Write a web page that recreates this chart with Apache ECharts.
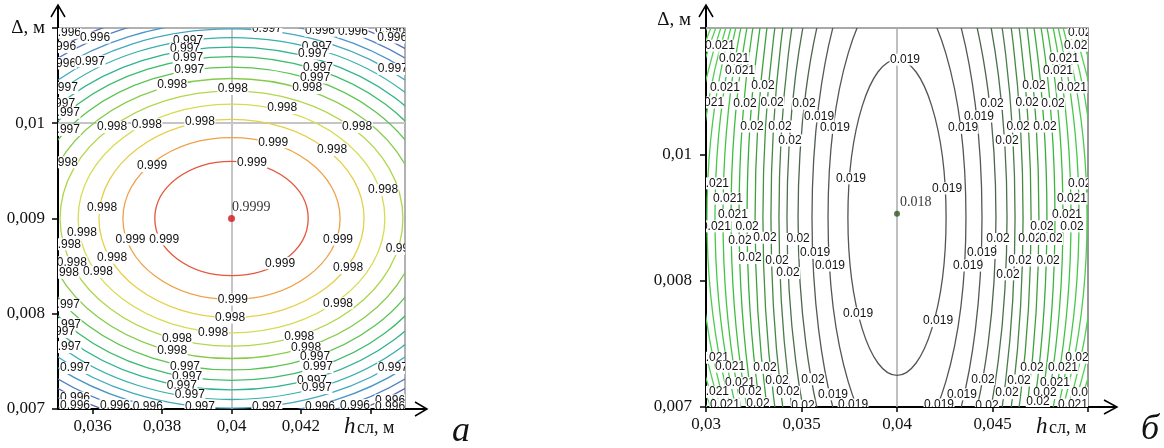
<!DOCTYPE html>
<html><head><meta charset="utf-8">
<script src="https://cdn.jsdelivr.net/npm/echarts@6/dist/echarts.min.js"></script>
<style>html,body{margin:0;padding:0;background:#fff}#c{width:1164px;height:448px}</style>
</head><body><div id="c"></div>
<script>
// ================= DATA: panel (а) =================
const leftCenter = [0.04, 0.009];
const leftCenterText = '0.9999';
// semi-axes of each contour ellipse, inner -> outer
const leftRx = [0.00221, 0.00313, 0.00382, 0.00442, 0.00494, 0.00542, 0.00585, 0.00626, 0.00663, 0.00697, 0.00732, 0.00766, 0.00798, 0.00826, 0.00855, 0.00884];
const leftRy = [0.0006, 0.00085, 0.00104, 0.0012, 0.00134, 0.00147, 0.00159, 0.0017, 0.0018, 0.0019, 0.00199, 0.00207, 0.00216, 0.00224, 0.00232, 0.0024];
const leftXTicks = [0.036, 0.038, 0.04, 0.042, 0.044];
const leftXTickLabels = ['0,036', '0,038', '0,04', '0,042', ''];
const leftYTicks = [0.007, 0.008, 0.009, 0.01, 0.011];
const leftYTickLabels = ['0,007', '0,008', '0,009', '0,01', ''];
const leftGridX = [0.036, 0.038, 0.04, 0.042, 0.044];
const leftGridY = [0.008, 0.009, 0.01];
const leftLabels = [
[0.03523,0.01095,'0.996'],[0.03607,0.0109,'0.996'],[0.03509,0.0108,'0.996'],[0.03509,0.01063,'0.996'],
[0.03592,0.01065,'0.997'],[0.03875,0.01087,'0.997'],[0.03866,0.01078,'0.997'],[0.03875,0.01069,'0.997'],
[0.03878,0.01056,'0.997'],[0.03829,0.0104,'0.998'],[0.04004,0.01036,'0.998'],[0.04146,0.01016,'0.998'],
[0.03909,0.01002,'0.998'],[0.03756,0.00999,'0.998'],[0.03656,0.00996,'0.998'],[0.04102,0.01099,'0.997'],
[0.04255,0.01097,'0.996'],[0.0435,0.01096,'0.996'],[0.04457,0.01098,'0.996'],[0.04463,0.0109,'0.996'],
[0.04246,0.0108,'0.997'],[0.04235,0.01073,'0.997'],[0.04249,0.01058,'0.997'],[0.04241,0.01048,'0.997'],
[0.04218,0.01037,'0.998'],[0.04465,0.01057,'0.997'],[0.03514,0.01037,'0.997'],[0.03506,0.01021,'0.997'],
[0.0352,0.01011,'0.997'],[0.0352,0.00993,'0.997'],[0.04362,0.00996,'0.998'],[0.0412,0.0098,'0.999'],
[0.0429,0.00972,'0.998'],[0.03771,0.00955,'0.999'],[0.04059,0.00959,'0.999'],[0.04437,0.0093,'0.998'],
[0.03514,0.00959,'0.998'],[0.03627,0.00911,'0.998'],[0.03569,0.00885,'0.998'],[0.03523,0.00873,'0.998'],
[0.03656,0.00859,'0.998'],[0.0354,0.00854,'0.998'],[0.03517,0.00843,'0.998'],[0.03615,0.00844,'0.998'],
[0.03709,0.00878,'0.999'],[0.03806,0.00878,'0.999'],[0.04307,0.00878,'0.999'],[0.04488,0.00868,'0.998'],
[0.0414,0.00853,'0.999'],[0.04336,0.00848,'0.998'],[0.04004,0.00815,'0.999'],[0.04307,0.00811,'0.998'],
[0.03996,0.00796,'0.998'],[0.03947,0.0078,'0.998'],[0.03843,0.00774,'0.998'],[0.03829,0.00761,'0.998'],
[0.04195,0.00776,'0.998'],[0.04215,0.00764,'0.998'],[0.04241,0.00755,'0.997'],[0.04249,0.00744,'0.997'],
[0.04232,0.0073,'0.997'],[0.04246,0.00722,'0.997'],[0.03866,0.00744,'0.997'],[0.03872,0.00734,'0.997'],
[0.03857,0.00725,'0.997'],[0.0388,0.00715,'0.997'],[0.03909,0.00702,'0.997'],[0.04102,0.00702,'0.997'],
[0.0352,0.00809,'0.997'],[0.03523,0.00789,'0.997'],[0.03506,0.00781,'0.997'],[0.03523,0.00765,'0.997'],
[0.03549,0.00743,'0.997'],[0.03549,0.00712,'0.996'],[0.03549,0.00704,'0.996'],[0.03664,0.00704,'0.996'],
[0.03759,0.00702,'0.996'],[0.04255,0.00702,'0.996'],[0.04356,0.00704,'0.996'],[0.04457,0.00709,'0.996'],
[0.04457,0.00702,'0.996'],[0.04465,0.00743,'0.997']
];

// ================= DATA: panel (б) =================
const rightCenter = [0.04, 0.00853];
const rightCenterText = '0.018';
const rightEllipseCenter = [0.04, 0.0085];
const rightRx = [0.00257, 0.00361, 0.00445, 0.00518, 0.00576, 0.00618, 0.0066, 0.00702, 0.00743, 0.00785, 0.00827, 0.00869, 0.00911, 0.00953, 0.00995, 0.01037, 0.01079, 0.0112, 0.01162, 0.01204];
const rightRy = [0.00125, 0.00184, 0.00229, 0.00256, 0.0029, 0.0033, 0.00354, 0.00363, 0.00374, 0.00369, 0.00366, 0.00351, 0.0034, 0.00323, 0.00309, 0.00298, 0.00289, 0.00282, 0.00275, 0.00267];
const rightXTicks = [0.03, 0.035, 0.04, 0.045, 0.05];
const rightXTickLabels = ['0,03', '0,035', '0,04', '0,045', ''];
const rightYTicks = [0.007, 0.008, 0.009, 0.01];
const rightYTickLabels = ['0,007', '0,008', '0,01', ''];
const rightGridX = [0.04];
const rightGridY = [0.008, 0.009];
const rightLabels = [
[0.03073,0.00986,'0.021'],[0.03147,0.00976,'0.021'],[0.03178,0.00966,'0.021'],[0.03099,0.00953,'0.021'],
[0.03016,0.00941,'0.021'],[0.03298,0.00954,'0.02'],[0.03204,0.0094,'0.02'],[0.03346,0.00941,'0.02'],
[0.03513,0.0094,'0.02'],[0.03592,0.0093,'0.019'],[0.03675,0.00921,'0.019'],[0.03241,0.00922,'0.02'],
[0.03387,0.00922,'0.02'],[0.0344,0.00911,'0.02'],[0.04042,0.00975,'0.019'],[0.04974,0.00996,'0.021'],
[0.04953,0.00986,'0.021'],[0.04874,0.00976,'0.021'],[0.04843,0.00966,'0.021'],[0.04717,0.00954,'0.02'],
[0.04916,0.00953,'0.021'],[0.04497,0.0094,'0.02'],[0.04681,0.00941,'0.02'],[0.04817,0.0094,'0.02'],
[0.04429,0.0093,'0.019'],[0.04346,0.00921,'0.019'],[0.04634,0.00922,'0.02'],[0.04775,0.00922,'0.02'],
[0.04576,0.00911,'0.02'],[0.03759,0.00881,'0.019'],[0.04262,0.00873,'0.019'],[0.03042,0.00877,'0.021'],
[0.03115,0.00865,'0.021'],[0.03141,0.00852,'0.021'],[0.04974,0.00877,'0.021'],[0.04916,0.00865,'0.021'],
[0.0489,0.00852,'0.021'],[0.03052,0.00843,'0.021'],[0.03215,0.00843,'0.02'],[0.03178,0.00832,'0.02'],
[0.03309,0.00834,'0.02'],[0.03482,0.00833,'0.02'],[0.03571,0.00822,'0.019'],[0.03649,0.00812,'0.019'],
[0.0323,0.00818,'0.02'],[0.03372,0.00816,'0.02'],[0.03429,0.00806,'0.02'],[0.04759,0.00843,'0.02'],
[0.04916,0.00843,'0.02'],[0.04529,0.00833,'0.02'],[0.04696,0.00833,'0.02'],[0.04806,0.00833,'0.02'],
[0.04445,0.00822,'0.019'],[0.04372,0.00812,'0.019'],[0.04644,0.00816,'0.02'],[0.04791,0.00816,'0.02'],
[0.04581,0.00805,'0.02'],[0.03796,0.00774,'0.019'],[0.04215,0.00768,'0.019'],[0.03042,0.00739,'0.021'],
[0.03126,0.00732,'0.021'],[0.03309,0.00731,'0.02'],[0.03178,0.00719,'0.021'],[0.03372,0.00721,'0.02'],
[0.0356,0.00722,'0.02'],[0.03042,0.00712,'0.021'],[0.0323,0.00712,'0.02'],[0.03429,0.00712,'0.02'],
[0.03665,0.0071,'0.019'],[0.03099,0.00702,'0.021'],[0.03272,0.00703,'0.02'],[0.03508,0.00701,'0.02'],
[0.0377,0.00702,'0.019'],[0.04942,0.00739,'0.02'],[0.04707,0.00731,'0.02'],[0.04869,0.00731,'0.021'],
[0.0445,0.00722,'0.02'],[0.04639,0.00721,'0.02'],[0.04827,0.00719,'0.021'],[0.0434,0.0071,'0.019'],
[0.04576,0.00711,'0.02'],[0.04775,0.00711,'0.02'],[0.04974,0.00711,'0.02'],[0.0422,0.00702,'0.019'],
[0.04471,0.00701,'0.02'],[0.04738,0.00704,'0.02'],[0.04921,0.00702,'0.021']
];

// ================= STYLE =================
const leftColors = ['#e4573b','#f0a048','#e6cf4a','#d6dc50','#b2d64c','#86cc4c','#5cc452','#3cbc6c','#30b48c','#36b0aa','#42a8c0','#4896cc','#507ec4','#5468b4','#5454a0','#4a4290'];
const rightColors = ['#555555','#555555','#545a54','#506450','#4c704c','#487c48','#448844','#409440','#3da03d','#3bab3b','#3cb53c','#40bd40','#44c444','#48c848','#4ccc4c','#50ce50','#54d054','#58d258','#5cd45c','#60d660'];
const SERIF = '"Liberation Serif","Times New Roman",serif';
const SANS = '"Liberation Sans",Arial,sans-serif';

function lookup(ticks, labels) {
  return function (v) {
    for (let i = 0; i < ticks.length; i++) if (Math.abs(ticks[i] - v) < 1e-9) return labels[i];
    return '';
  };
}
function ellipseRender(colors) {
  return function (params, api) {
    const c = api.coord([api.value(0), api.value(1)]);
    const s = api.size([api.value(2), api.value(3)]);
    return { type: 'ellipse', silent: true,
      shape: { cx: c[0], cy: c[1], rx: s[0], ry: s[1] },
      style: { fill: 'none', stroke: colors[params.dataIndex], lineWidth: 1.3 } };
  };
}
function labelRender(list) {
  return function (params, api) {
    const p = api.coord([api.value(0), api.value(1)]);
    return { type: 'text', silent: true, x: p[0], y: p[1],
      style: { text: list[params.dataIndex][2], align: 'center', verticalAlign: 'middle',
        font: '12px ' + SANS, fill: '#111', backgroundColor: '#fff', padding: [0, 0.5] } };
  };
}
function gridLines(xs, ys, color) {
  return { type: 'line', data: [], silent: true, z: 1,
    markLine: { silent: true, z: 1, animation: false, symbol: ['none', 'none'], label: { show: false },
      lineStyle: { color: color, width: 1.5, type: 'solid' },
      data: xs.map(v => ({ xAxis: v })).concat(ys.map(v => ({ yAxis: v }))) } };
}

const axisLabelStyle = { fontFamily: SERIF, fontSize: 17, color: '#111' };

const chart = echarts.init(document.getElementById('c'));
chart.setOption({
  animation: false,
  backgroundColor: '#fff',
  grid: [
    { left: 58, top: 28, width: 347, height: 381, show: true, borderColor: '#999', borderWidth: 1.5, containLabel: false, outerBoundsMode: 'none' },
    { left: 706, top: 28, width: 382, height: 379, show: true, borderColor: '#777', borderWidth: 1.5, containLabel: false, outerBoundsMode: 'none' }
  ],
  xAxis: [
    { gridIndex: 0, type: 'value', min: 0.035, max: 0.045,
      axisLine: { show: true, onZero: false, lineStyle: { color: '#000', width: 2 } },
      axisTick: { show: true, customValues: leftXTicks, length: 5, lineStyle: { color: '#000', width: 1.5 } },
      axisLabel: Object.assign({ customValues: leftXTicks, margin: 9, formatter: lookup(leftXTicks, leftXTickLabels) }, axisLabelStyle),
      splitLine: { show: false } },
    { gridIndex: 1, type: 'value', min: 0.03, max: 0.05, interval: 0.005,
      axisLine: { show: true, onZero: false, lineStyle: { color: '#000', width: 2 } },
      axisTick: { show: true, length: 5, lineStyle: { color: '#000', width: 1.5 } },
      axisLabel: Object.assign({ margin: 9, showMaxLabel: true, formatter: lookup(rightXTicks, rightXTickLabels) }, axisLabelStyle),
      splitLine: { show: false } }
  ],
  yAxis: [
    { gridIndex: 0, type: 'value', min: 0.007, max: 0.011, interval: 0.001,
      axisLine: { show: true, onZero: false, lineStyle: { color: '#000', width: 2 } },
      axisTick: { show: true, length: 6, lineStyle: { color: '#000', width: 1.5 } },
      axisLabel: Object.assign({ margin: 13, formatter: lookup(leftYTicks, leftYTickLabels) }, axisLabelStyle),
      splitLine: { show: false } },
    { gridIndex: 1, type: 'value', min: 0.007, max: 0.010, interval: 0.001,
      axisLine: { show: true, onZero: false, lineStyle: { color: '#000', width: 2 } },
      axisTick: { show: true, length: 6, lineStyle: { color: '#000', width: 1.5 } },
      axisLabel: Object.assign({ margin: 14, formatter: lookup(rightYTicks, rightYTickLabels) }, axisLabelStyle),
      splitLine: { show: false } }
  ],
  series: [
    Object.assign(gridLines(leftGridX, leftGridY, '#c4c4c4'), { xAxisIndex: 0, yAxisIndex: 0 }),
    Object.assign(gridLines(rightGridX, rightGridY, '#aaaaaa'), { xAxisIndex: 1, yAxisIndex: 1 }),
    { type: 'custom', xAxisIndex: 0, yAxisIndex: 0, clip: true, z: 3, silent: true,
      renderItem: ellipseRender(leftColors), encode: { x: 0, y: 1 },
      data: leftRx.map((rx, i) => [leftCenter[0], leftCenter[1], rx, leftRy[i]]) },
    { type: 'custom', xAxisIndex: 1, yAxisIndex: 1, clip: true, z: 3, silent: true,
      renderItem: ellipseRender(rightColors), encode: { x: 0, y: 1 },
      data: rightRx.map((rx, i) => [rightEllipseCenter[0], rightEllipseCenter[1], rx, rightRy[i]]) },
    { type: 'custom', xAxisIndex: 0, yAxisIndex: 0, clip: true, z: 4, silent: true,
      renderItem: labelRender(leftLabels), encode: { x: 0, y: 1 },
      data: leftLabels.map(l => [l[0], l[1]]) },
    { type: 'custom', xAxisIndex: 1, yAxisIndex: 1, clip: true, z: 4, silent: true,
      renderItem: labelRender(rightLabels), encode: { x: 0, y: 1 },
      data: rightLabels.map(l => [l[0], l[1]]) },
    { type: 'scatter', xAxisIndex: 0, yAxisIndex: 0, z: 5, silent: true, symbolSize: 7,
      itemStyle: { color: '#d41515' }, data: [leftCenter],
      label: { show: true, position: 'right', offset: [-8, -11], formatter: leftCenterText,
        fontFamily: SERIF, fontSize: 14, color: '#000', textBorderWidth: 0 } },
    { type: 'scatter', xAxisIndex: 1, yAxisIndex: 1, z: 5, silent: true, symbolSize: 6,
      itemStyle: { color: '#2f5a22' }, data: [rightCenter],
      label: { show: true, position: 'right', offset: [-5, -11], formatter: rightCenterText,
        fontFamily: SERIF, fontSize: 14, color: '#000', textBorderWidth: 0 } }
  ],
  graphic: [
    // axis arrows (a)
    { type: 'polyline', silent: true, shape: { points: [[58, 29], [58, 5]] }, style: { stroke: '#000', lineWidth: 2, fill: 'none' } },
    { type: 'polyline', silent: true, shape: { points: [[51, 17], [58, 5], [65, 17]] }, style: { stroke: '#000', lineWidth: 1.5, fill: 'none' } },
    { type: 'polyline', silent: true, shape: { points: [[404, 409], [427, 409]] }, style: { stroke: '#000', lineWidth: 2, fill: 'none' } },
    { type: 'polyline', silent: true, shape: { points: [[415, 402], [427, 409], [415, 416]] }, style: { stroke: '#000', lineWidth: 1.5, fill: 'none' } },
    // axis arrows (б)
    { type: 'polyline', silent: true, shape: { points: [[706, 29], [706, 5]] }, style: { stroke: '#000', lineWidth: 2, fill: 'none' } },
    { type: 'polyline', silent: true, shape: { points: [[699, 17], [706, 5], [713, 17]] }, style: { stroke: '#000', lineWidth: 1.5, fill: 'none' } },
    { type: 'polyline', silent: true, shape: { points: [[1087, 407], [1117, 407]] }, style: { stroke: '#000', lineWidth: 2, fill: 'none' } },
    { type: 'polyline', silent: true, shape: { points: [[1104, 400], [1117, 407], [1104, 414]] }, style: { stroke: '#000', lineWidth: 1.5, fill: 'none' } },
    // axis names
    { type: 'text', silent: true, x: 45, y: 28, style: { text: 'Δ, м', font: '19px ' + SERIF, fill: '#111', align: 'right', verticalAlign: 'middle' } },
    { type: 'text', silent: true, x: 691, y: 20, style: { text: 'Δ, м', font: '19px ' + SERIF, fill: '#111', align: 'right', verticalAlign: 'middle' } },
    { type: 'text', silent: true, x: 344, y: 438, style: { text: 'h', font: 'italic 23px ' + SERIF, fill: '#111', align: 'left', verticalAlign: 'bottom' } },
    { type: 'text', silent: true, x: 357, y: 437, style: { text: 'сл, м', font: '18px ' + SERIF, fill: '#111', align: 'left', verticalAlign: 'bottom' } },
    { type: 'text', silent: true, x: 1036, y: 438, style: { text: 'h', font: 'italic 23px ' + SERIF, fill: '#111', align: 'left', verticalAlign: 'bottom' } },
    { type: 'text', silent: true, x: 1049, y: 437, style: { text: 'сл, м', font: '18px ' + SERIF, fill: '#111', align: 'left', verticalAlign: 'bottom' } },
    // panel letters
    { type: 'text', silent: true, x: 461, y: 432, style: { text: 'а', font: 'italic 36px ' + SERIF, fill: '#111', align: 'center', verticalAlign: 'middle' } },
    { type: 'text', silent: true, x: 1150, y: 430, style: { text: 'б', font: 'italic 36px ' + SERIF, fill: '#111', align: 'center', verticalAlign: 'middle' } }
  ]
});
</script>
</body></html>
